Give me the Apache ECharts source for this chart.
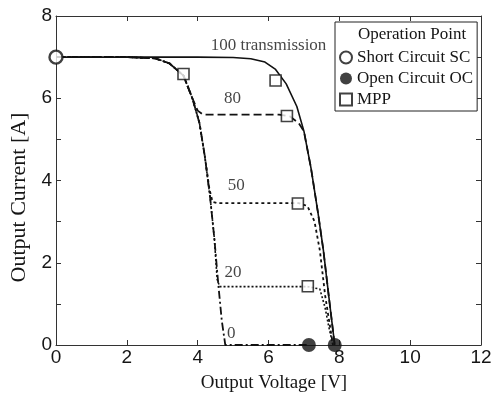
<!DOCTYPE html>
<html><head><meta charset="utf-8">
<script src="https://cdn.jsdelivr.net/npm/echarts@6/dist/echarts.min.js"></script>
<style>html,body{margin:0;padding:0;background:#fff}#c{width:495px;height:398px}</style>
</head><body><div id="c"></div>
<script>
// I-V curves [voltage V, current A]
const curve100 = [[0,7],[2,7],[4,7],[5,6.99],[5.5,6.96],[5.9,6.88],[6.2,6.7],[6.5,6.35],[6.8,5.8],[7.0,5.2],[7.2,4.3],[7.4,3.2],[7.55,2.3],[7.7,1.2],[7.87,0]];
const curve80  = [[0,7],[2,7],[2.8,6.97],[3.2,6.85],[3.6,6.55],[3.85,6.0],[4.0,5.7],[4.15,5.6],[6.3,5.6],[6.6,5.56],[6.85,5.4],[7.0,5.2],[7.2,4.3],[7.4,3.2],[7.55,2.3],[7.7,1.2],[7.87,0]];
const curve50  = [[0,7],[2,7],[2.8,6.97],[3.2,6.85],[3.6,6.55],[3.85,6.0],[4.05,5.4],[4.2,4.6],[4.33,3.8],[4.42,3.48],[4.55,3.45],[6.85,3.45],[7.1,3.38],[7.3,3.0],[7.45,2.3],[7.6,1.2],[7.82,0]];
const curve20  = [[0,7],[2,7],[2.8,6.97],[3.2,6.85],[3.6,6.55],[3.85,6.0],[4.05,5.4],[4.2,4.6],[4.35,3.6],[4.47,2.6],[4.55,1.6],[4.62,1.42],[7.1,1.42],[7.45,1.36],[7.6,0.9],[7.7,0.45],[7.82,0]];
const curve0   = [[0,7],[2,7],[2.8,6.97],[3.2,6.85],[3.6,6.55],[3.85,6.0],[4.05,5.4],[4.2,4.6],[4.35,3.6],[4.47,2.6],[4.58,1.5],[4.68,0.6],[4.78,0],[7.14,0]];
// operation points
const shortCircuit = [[0,7]];
const openCircuit = [[7.14,0],[7.87,0]];
const mppPoints = [[3.6,6.59],[6.2,6.43],[6.52,5.57],[6.83,3.44],[7.11,1.43]];
// curve annotations
const curveLabels = ['100 transmission','80','50','20','0'];
const curveLabelAt = [[6.0,7.29],[4.98,6.0],[5.09,3.87],[5.0,1.77],[4.95,0.27]];
const xTicks = [0,2,4,6,8,10,12];
const yTicks = [0,2,4,6,8];

const serif = 'Liberation Serif';
const sans = 'Liberation Sans';
const ink = '#151515';
const chart = echarts.init(document.getElementById('c'));
const lineS = (data, type, w) => ({
  type:'line', data, showSymbol:false, symbol:'none', smooth:false, z:2,
  lineStyle:{color:'#111', width:w, type}
});
const frameAxis = (extra) => Object.assign({
  type:'value',
  axisLine:{onZero:false, lineStyle:{color:'#333', width:1}},
  axisTick:{inside:true, length:5, lineStyle:{color:'#333'}},
  splitLine:{show:false}
}, extra);
chart.setOption({
  animation:false,
  grid:{left:54, right:14, top:16, bottom:52},
  title:{text:'Operation Point', left:358, top:26, padding:0,
    textStyle:{fontFamily:serif, fontSize:17, fontWeight:'normal', color:ink}},
  legend:{
    data:['Short Circuit SC','Open Circuit OC','MPP'],
    orient:'vertical', left:335, top:22,
    padding:[27,4,3,4], itemGap:4, itemWidth:12, itemHeight:12,
    borderColor:'#222', borderWidth:1, backgroundColor:'#fff',
    textStyle:{fontFamily:serif, fontSize:17, color:ink, lineHeight:17}
  },
  xAxis:[frameAxis({
    min:0, max:12, interval:2, position:'bottom',
    name:'Output Voltage [V]', nameLocation:'middle', nameGap:29,
    nameTextStyle:{fontFamily:serif, fontSize:19, color:ink, padding:[0,0,0,11]},
    axisLabel:{fontFamily:sans, fontSize:19, color:ink, margin:3, formatter:v=>xTicks.includes(v)?String(v):''}
  }), frameAxis({
    min:0, max:12, interval:2, position:'top', axisLabel:{show:false}
  })],
  yAxis:[frameAxis({
    min:0, max:8, interval:1, position:'left',
    name:'Output Current [A]', nameLocation:'middle', nameGap:26,
    nameTextStyle:{fontFamily:serif, fontSize:22, color:ink, padding:[0,34,0,0]},
    axisLabel:{fontFamily:sans, fontSize:19, color:ink, margin:4, formatter:v=>yTicks.includes(v)?String(v):''}
  }), frameAxis({
    min:0, max:8, interval:1, position:'right', axisLabel:{show:false}
  })],
  series:[
    lineS(curve100,'solid',1.6),
    lineS(curve80,[8,4],1.8),
    lineS(curve50,[3,3],1.8),
    lineS(curve20,[2,2],1.6),
    lineS(curve0,[8,3,2,3],1.8),
    {type:'scatter', name:'labels', data:curveLabelAt.map((p,i)=>({value:p, name:curveLabels[i]})),
     symbolSize:0, silent:true, z:5,
     label:{show:true, position:'inside', formatter:p=>p.name, fontFamily:serif, fontSize:17, color:ink}},
    {type:'scatter', name:'Short Circuit SC', data:shortCircuit, symbol:'circle', symbolSize:13, z:10,
     itemStyle:{color:'#fff', borderColor:'#111', borderWidth:2.4}},
    {type:'scatter', name:'Open Circuit OC', data:openCircuit, symbol:'circle', symbolSize:14, z:10,
     itemStyle:{color:'#111', borderColor:'#111', borderWidth:0}},
    {type:'scatter', name:'MPP', data:mppPoints, symbol:'rect', symbolSize:11, z:10,
     itemStyle:{color:'#fff', borderColor:'#111', borderWidth:1.6}}
  ]
});
</script></body></html>
